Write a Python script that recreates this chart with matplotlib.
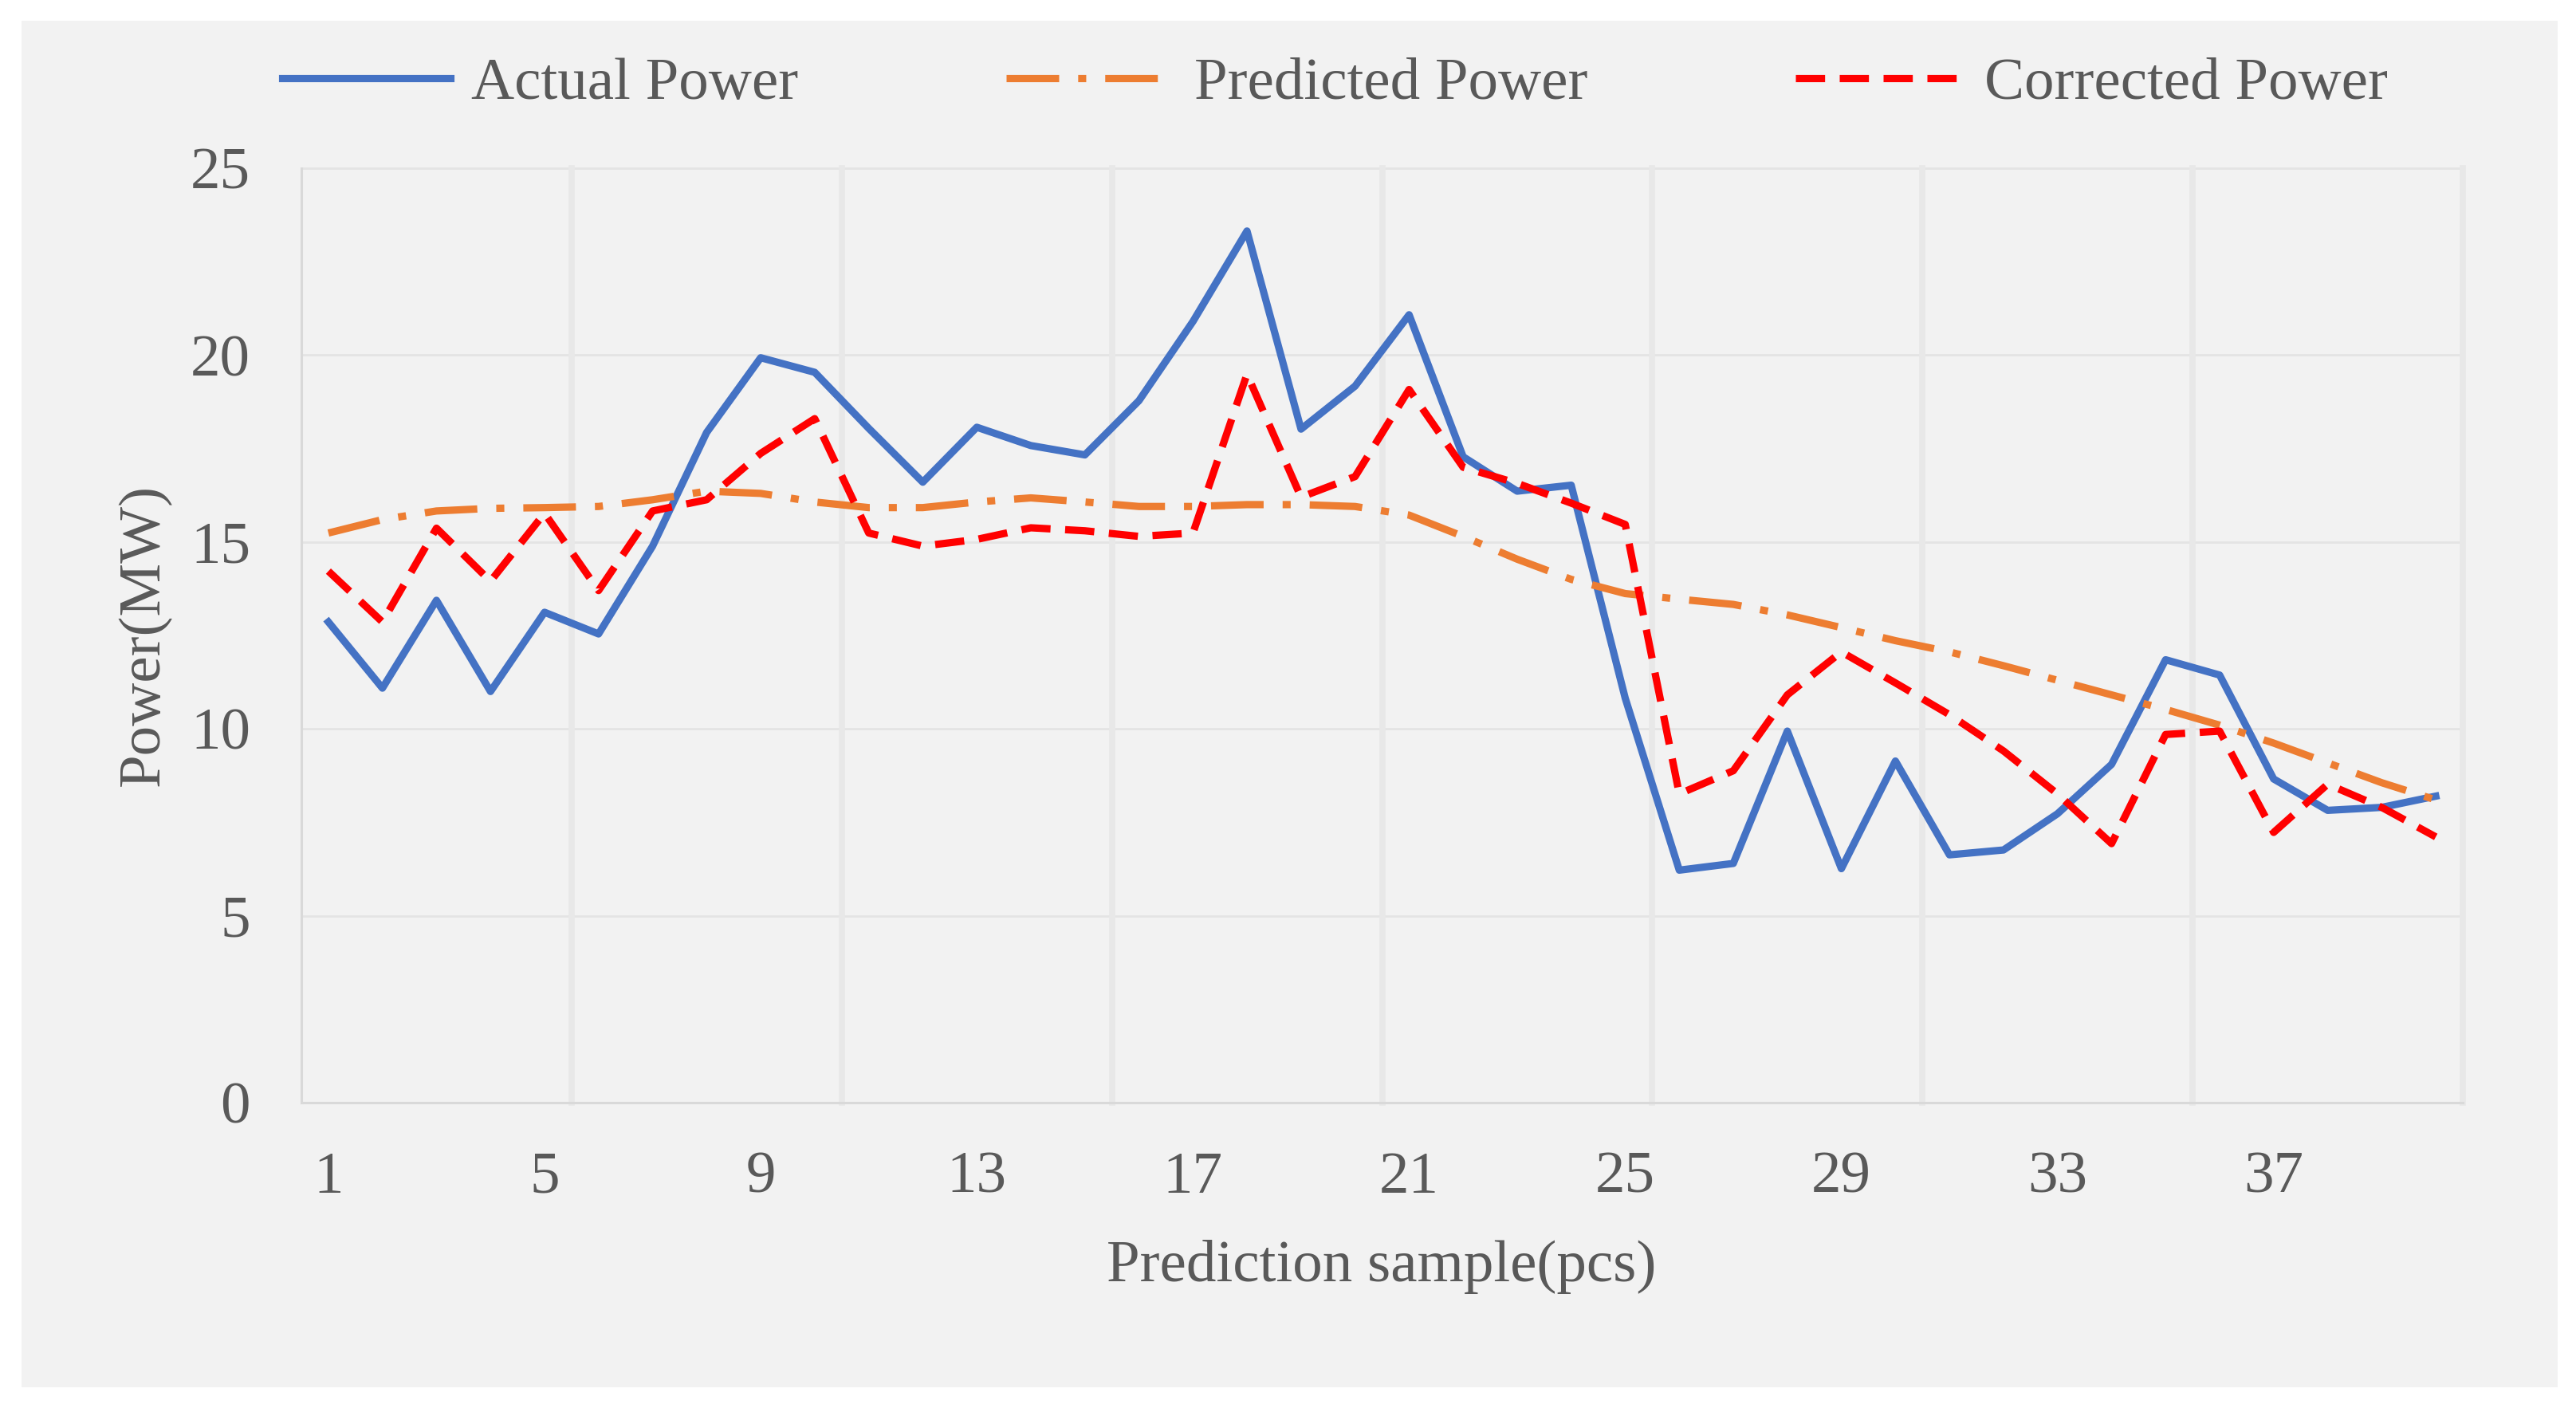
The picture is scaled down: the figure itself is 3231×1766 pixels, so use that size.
import matplotlib
matplotlib.use("Agg")
import matplotlib.pyplot as plt
from matplotlib.patches import Rectangle
import numpy as np

plt.rcParams['font.family'] = ['Liberation Serif', 'DejaVu Serif']

samples = list(range(1, 41))
actual_power = [12.86, 11.09, 13.44, 11.0, 13.12, 12.54, 14.89, 17.93, 19.93, 19.54,
                18.04, 16.6, 18.07, 17.58, 17.33, 18.78, 20.9, 23.32, 18.02, 19.17,
                21.08, 17.28, 16.36, 16.52, 10.82, 6.22, 6.4, 9.94, 6.26, 9.14,
                6.63, 6.76, 7.73, 9.05, 11.85, 11.44, 8.66, 7.82, 7.9, 8.2]
predicted_power = [15.24, 15.6, 15.83, 15.9, 15.92, 15.95, 16.13, 16.36, 16.3, 16.07,
                   15.92, 15.92, 16.07, 16.18, 16.07, 15.95, 15.95, 16.0, 16.0, 15.95,
                   15.72, 15.15, 14.54, 14.0, 13.62, 13.47, 13.33, 13.05, 12.71, 12.36,
                   12.06, 11.69, 11.3, 10.91, 10.52, 10.1, 9.62, 9.09, 8.56, 8.1]
corrected_power = [14.22, 12.86, 15.37, 13.95, 15.77, 13.7, 15.83, 16.13, 17.37, 18.3,
                   15.24, 14.89, 15.07, 15.38, 15.3, 15.15, 15.24, 19.49, 16.2, 16.75,
                   19.08, 17.0, 16.57, 16.04, 15.47, 8.26, 8.88, 10.91, 12.06, 11.23,
                   10.38, 9.41, 8.26, 6.93, 9.85, 9.94, 7.23, 8.52, 7.9, 7.11]
x_tick_labels = ['1', '5', '9', '13', '17', '21', '25', '29', '33', '37']
y_ticks = [0, 5, 10, 15, 20, 25]

W, H = 3231, 1766
DPI = 200
fig = plt.figure(figsize=(W / DPI, H / DPI), dpi=DPI, facecolor='white')
bg = Rectangle((27 / W, 1 - 1740 / H), (3208 - 27) / W, (1740 - 26) / H,
               transform=fig.transFigure, facecolor='#F2F2F2',
               edgecolor='none', zorder=-10)
fig.patches.append(bg)

left, right = 378 / W, 3089 / W
bottom, top = 1 - 1383 / H, 1 - 211 / H
ax = fig.add_axes([left, bottom, right - left, top - bottom])
ax.set_facecolor('#F2F2F2')

text_color = '#595959'
fs = 27

# gridlines
for yv in y_ticks[1:]:
    ax.axhline(yv, color='#E4E4E4', lw=1.0, zorder=1, clip_on=False)
for xv in np.arange(5.5, 41, 5):
    ax.axvline(xv, color='#E8E8E8', lw=2.8, zorder=1, clip_on=False)

lw = 3.3
ax.plot(samples, actual_power, color='#4472C4', lw=lw, solid_joinstyle='round',
        label='Actual Power', zorder=3)
ax.plot(samples, predicted_power, color='#ED7D31', lw=lw, dashes=(7.2, 2.6, 1.1, 2.6),
        label='Predicted Power', zorder=3)
ax.plot(samples, corrected_power, color='#FF0000', lw=lw, dashes=(4.0, 2.0),
        label='Corrected Power', zorder=4)

ax.set_xlim(0.5, 40.5)
ax.set_ylim(0, 25)
ax.set_xticks([int(t) for t in x_tick_labels])
ax.set_xticklabels(x_tick_labels)
ax.set_yticks(y_ticks)
ax.tick_params(axis='both', length=0, labelsize=fs, labelcolor=text_color)
ax.tick_params(axis='x', pad=22)
ax.tick_params(axis='y', pad=23)

for s in ['top', 'right']:
    ax.spines[s].set_visible(False)
ax.spines['bottom'].set_color('#D9D9D9')
ax.spines['bottom'].set_linewidth(1.1)
ax.spines['left'].set_color('#D9D9D9')
ax.spines['left'].set_linewidth(1.1)

fig.text(181 / W, 1 - 797 / H, 'Power(MW)', rotation=90, ha='center', va='center',
         fontsize=fs, color=text_color)
fig.text(1733 / W, 1 - 1589 / H, 'Prediction sample(pcs)', ha='center', va='center',
         fontsize=fs, color=text_color)

handles, labels = ax.get_legend_handles_labels()
leg = fig.legend(handles, labels, loc='center left', bbox_to_anchor=(354 / W, 1 - 106 / H),
                 ncol=3, frameon=False, borderpad=0, borderaxespad=0,
                 handlelength=2.81, handletextpad=0.35, columnspacing=3.47,
                 fontsize=fs)
for t in leg.get_texts():
    t.set_color(text_color)

fig.savefig('out.png', dpi=DPI, facecolor='white')
